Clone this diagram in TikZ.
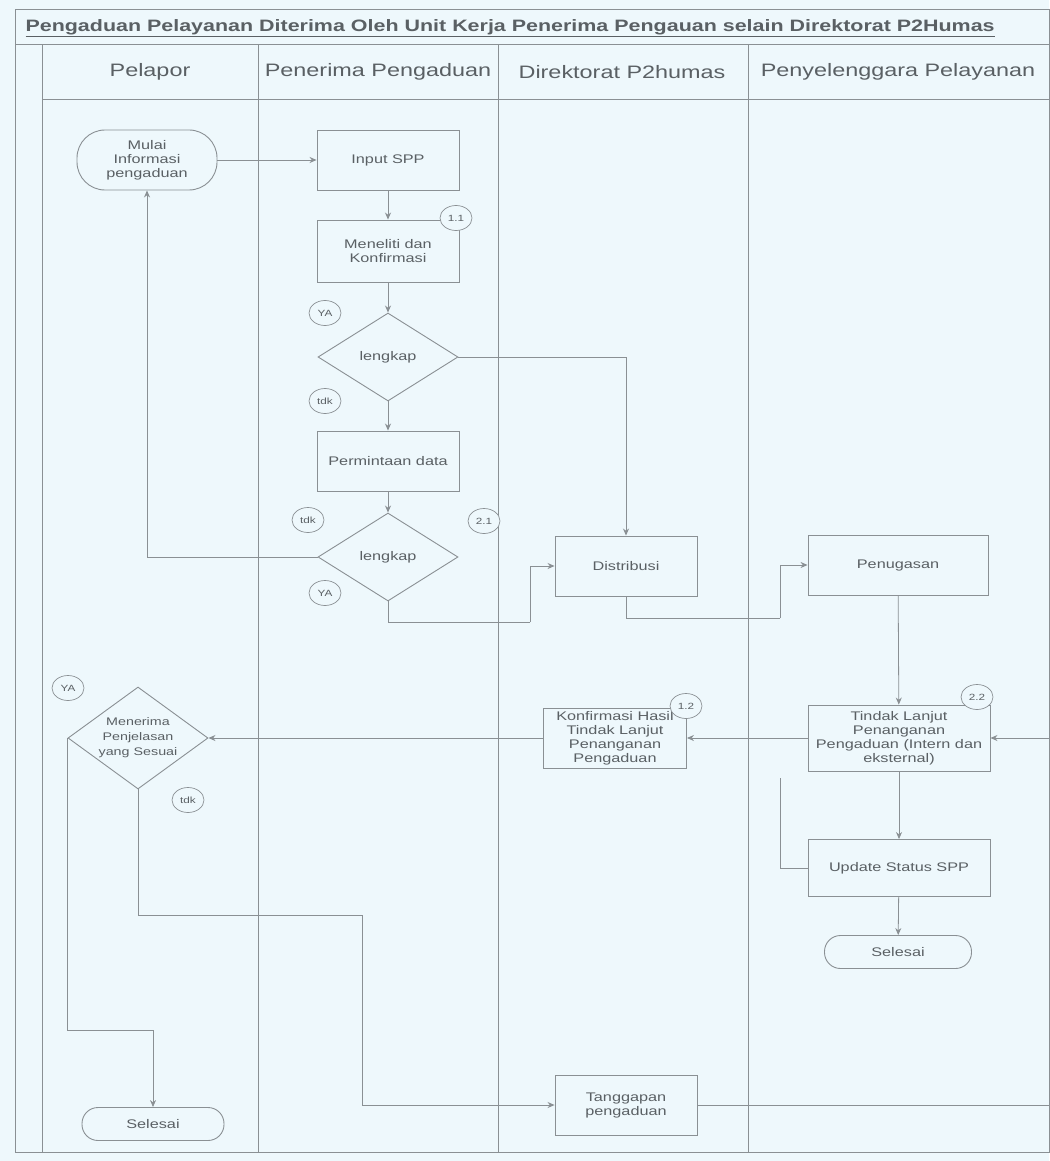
\documentclass[tikz,border=0pt]{standalone}
\usepackage{fontspec}
\setmainfont{Liberation Sans}[FakeStretch=1.3]
\usetikzlibrary{shapes.geometric,arrows.meta}
\definecolor{bgc}{HTML}{EEF8FC}
\definecolor{lnc}{HTML}{8A9094}
\definecolor{txc}{HTML}{5A6064}
\tikzset{
  boxfont/.style={font=\fontsize{12.5}{14}\selectfont, text=txc},
  proc/.style={draw=lnc, line width=0.9pt, fill=bgc, minimum width=#1, minimum height=60pt, inner sep=2pt, align=center, boxfont},
  proc/.default=142pt,
  term/.style={draw=lnc, line width=0.9pt, fill=bgc, rounded corners=16pt, minimum width=142pt, inner sep=2pt, align=center, boxfont},
  dec/.style={draw=lnc, line width=0.9pt, fill=bgc, diamond, minimum width=#1, minimum height=88pt, inner sep=0pt, align=center, boxfont},
  dec/.default=140pt,
  lbl/.style={draw=lnc, line width=0.7pt, fill=bgc, ellipse, minimum width=32pt, minimum height=25pt, inner sep=1pt, font=\fontsize{9}{10}\selectfont, text=txc},
  arr/.style={draw=lnc, line width=0.8pt, -{Stealth[length=7pt,width=6pt]}},
  conn/.style={draw=lnc, line width=0.8pt},
  lane/.style={draw=lnc, line width=1pt},
  hdr/.style={font=\fontsize{18}{20}\selectfont, text=txc}
}
\begin{document}
\begin{tikzpicture}[x=1pt,y=-1pt]
\useasboundingbox (0,0) rectangle (1049,1161);
\fill[bgc] (0,0) rectangle (1049,1161);
% frame
\draw[lane] (15,10) rectangle (1049,1152);
\draw[lane] (15,45) -- (1049,45);
\draw[lane] (42,100) -- (1049,100);
\foreach \x in {42,258,498,748} \draw[lane] (\x,45) -- (\x,1152);
% title
\node[font=\bfseries\fontsize{16.5}{18}\selectfont, text=txc, anchor=west] (title) at (22,28) {\underline{Pengaduan Pelayanan Diterima Oleh Unit Kerja Penerima Pengauan selain Direktorat P2Humas}};
% headers
\node[hdr] (h1) at (150,72) {Pelapor};
\node[hdr] (h2) at (378,72) {Penerima Pengaduan};
\node[hdr] (h3) at (622,72) {Direktorat P2humas};
\node[hdr] (h4) at (898,72) {Penyelenggara Pelayanan};
% nodes
\node[term, minimum height=60pt, minimum width=140pt, rounded corners=28pt] (start) at (147,160) {Mulai\\Informasi\\pengaduan};
\node[proc] (input) at (388,160) {Input SPP};
\node[proc, minimum height=62pt] (teliti) at (388,251) {Meneliti dan\\Konfirmasi};
\node[dec] (lk1) at (388,357) {lengkap};
\node[proc] (minta) at (388,461) {Permintaan data};
\node[dec] (lk2) at (388,557) {lengkap};
\node[proc] (dist) at (626,566) {Distribusi};
\node[proc, minimum width=180pt] (tugas) at (898,565) {Penugasan};
\node[proc, minimum width=182pt, minimum height=66pt] (tindak) at (899,738) {Tindak Lanjut\\Penanganan\\Pengaduan (Intern dan\\eksternal)};
\node[proc, minimum width=143pt] (konf) at (615,738) {Konfirmasi Hasil\\Tindak Lanjut\\Penanganan\\Pengaduan};
\node[dec, minimum height=102pt] (terima) at (138,738) {};
\node[align=center, font=\fontsize{11}{15}\selectfont, text=txc] (terimatxt) at (terima) {Menerima\\Penjelasan\\yang Sesuai};
\node[proc, minimum width=182pt, minimum height=57pt] (update) at (899,868) {Update Status SPP};
\node[term, minimum height=33pt, minimum width=147pt] (sel1) at (898,952) {Selesai};
\node[proc, minimum height=60pt] (tanggap) at (626,1105) {Tanggapan\\pengaduan};
\node[term, minimum height=33pt] (sel2) at (153,1124) {Selesai};
% junction coordinates
\coordinate (j1) at (530,622);
\coordinate (j2) at (780,618);
\coordinate (j3) at (780,778);
\coordinate (j4) at (362,915);
\coordinate (j5) at (153,1030);
\coordinate (e1) at (1049,1105);
\coordinate (e2) at (1049,738);
% connectors
\draw[arr] (start) -- (input);
\draw[arr] (input) -- (teliti);
\draw[arr] (teliti) -- (lk1);
\draw[arr] (lk1) -- (minta);
\draw[arr] (lk1.east) -| (dist.north);
\draw[arr] (minta) -- (lk2);
\draw[arr] (lk2.west) -| (start.south);
\draw[conn] (lk2.south) |- (j1);
\draw[arr] (j1) |- (dist.west);
\draw[conn] (dist.south) |- (j2);
\draw[arr] (j2) |- (tugas.west);
\draw[arr] (tugas) -- (tindak);
\draw[arr] (tindak) -- (konf);
\draw[arr] (konf.west) -- (terima.east);
\draw[arr] (tindak) -- (update);
\draw[arr] (update) -- (sel1);
\draw[conn] (update.west) -| (j3);
\draw[conn] (terima.south) |- (j4);
\draw[arr] (j4) |- (tanggap.west);
\draw[conn] (terima.west) |- (j5);
\draw[arr] (j5) -- (sel2.north);
\draw[conn] (tanggap.east) -- (e1);
\draw[arr] (e2) -- (tindak.east);
% labels
\node[lbl] (l1) at (456,218) {1.1};
\node[lbl] (l2) at (325,313) {YA};
\node[lbl] (l3) at (325,401) {tdk};
\node[lbl] (l4) at (308,520) {tdk};
\node[lbl] (l5) at (484,521) {2.1};
\node[lbl] (l6) at (325,593) {YA};
\node[lbl] (l7) at (686,706) {1.2};
\node[lbl] (l8) at (977,697) {2.2};
\node[lbl] (l9) at (68,688) {YA};
\node[lbl] (l10) at (188,800) {tdk};
\end{tikzpicture}
\end{document}
